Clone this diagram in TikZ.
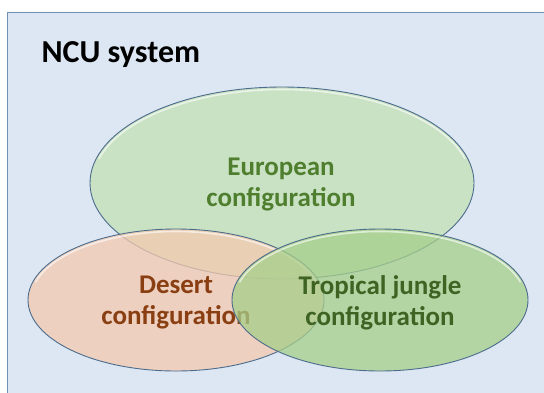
\documentclass[tikz,border=0pt]{standalone}
\usepackage{fontspec}
\setmainfont{Carlito}
\usetikzlibrary{shapes.geometric}
\definecolor{panelfill}{HTML}{DCE7F3}
\definecolor{panelline}{HTML}{6F8FB3}
\definecolor{ringline}{HTML}{4D6C8C}
\definecolor{eufill}{HTML}{C6E2BC}
\definecolor{eutext}{HTML}{4F7F2E}
\definecolor{defill}{HTML}{F4C9AF}
\definecolor{detext}{HTML}{8A3F12}
\definecolor{trfill}{HTML}{A6CF8A}
\definecolor{trtext}{HTML}{3E6322}
\tikzset{
  setring/.style={ellipse, draw=ringline, line width=0.9pt, inner sep=0pt},
  setlabel/.style={align=center, font=\bfseries\fontsize{27}{31}\selectfont},
  gloss/.style={draw=white, draw opacity=0.6, line width=1.6pt},
}
\begin{document}
\begin{tikzpicture}[x=1pt, y=-1pt]
\useasboundingbox (0,0) rectangle (544,392);
% panel
\node[draw=panelline, fill=panelfill, line width=1pt, minimum width=545pt, minimum height=386pt, anchor=north west, inner sep=0pt] (panel) at (7,12) {};
\node[anchor=base west, font=\bfseries\fontsize{32}{38}\selectfont] (title) at (38,62) {NCU system};
% European
\node[setring, fill=eufill, fill opacity=0.85, minimum width=384pt, minimum height=192pt] (eu) at (282,183) {};
\draw[gloss] (eu.center) ++(195:189.5 and 93.5) arc[start angle=195, end angle=345, x radius=189.5, y radius=93.5];
\node[setlabel, text=eutext] (eulabel) at (281,185) {European\\configuration};
% Desert
\node[setring, fill=defill, fill opacity=0.75, minimum width=296pt, minimum height=142pt] (de) at (176,300) {};
\draw[gloss] (de.center) ++(195:145.5 and 68.5) arc[start angle=195, end angle=345, x radius=145.5, y radius=68.5];
\node[setlabel, text=detext] (delabel) at (176,303) {Desert\\configuration};
% Tropical jungle
\node[setring, fill=trfill, fill opacity=0.75, minimum width=296pt, minimum height=142pt] (tr) at (380,300) {};
\draw[gloss] (tr.center) ++(195:145.5 and 68.5) arc[start angle=195, end angle=345, x radius=145.5, y radius=68.5];
\node[setlabel, text=trtext] (trlabel) at (380,303) {Tropical jungle\\configuration};
\end{tikzpicture}
\end{document}
